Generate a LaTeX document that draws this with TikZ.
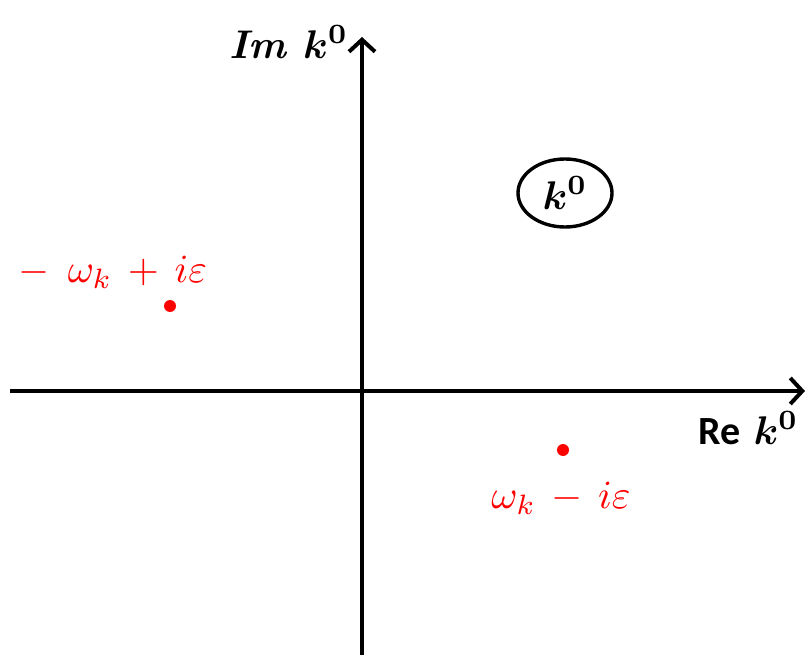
\documentclass[tikz,border=0pt]{standalone}
\usepackage{graphicx}
\usepackage{bm}
\usepackage{fontspec}
\newfontfamily\calib{Carlito}
\newcommand\sclf[1]{\scalebox{4}{#1}}
\usetikzlibrary{arrows.meta,shapes.geometric}
\begin{document}
\begin{tikzpicture}[x=1pt,y=-1pt,
  axis/.style={line width=4.2pt,-{Straight Barb[length=12pt,width=26pt,line width=4pt]}},
  pole/.style={circle,fill=red,inner sep=0pt,minimum size=12pt},
  redlbl/.style={text=red,inner sep=0pt},
  blacklbl/.style={inner sep=0pt}]
\useasboundingbox (0,0) rectangle (806,655);
\coordinate (ybot) at (362,655);
\coordinate (ytop) at (362,37);
\coordinate (xl) at (10,391);
\coordinate (xr) at (805,391);
\draw[axis] (ybot) -- (ytop);
\draw[axis] (xl) -- (xr);
\node[pole] (p1) at (170,306) {};
\node[pole] (p2) at (563,450) {};
\node[redlbl] (l1) at (113,272) {\sclf{$-\;\,\omega_k\,+\,i\varepsilon$}};
\node[redlbl] (l2) at (561,498) {\sclf{$\omega_k\,-\,i\varepsilon$}};
\node[blacklbl] (im) at (289,42) {\sclf{\bfseries\textit{Im} $\bm{k^0}$}};
\node[blacklbl,anchor=west] (re) at (698,428) {\sclf{{\calib\bfseries Re} $\bm{k^0}$}};
\node[draw,line width=3.4pt,ellipse,minimum width=94pt,minimum height=68pt,inner sep=0pt] (k) at (565,193) {\sclf{$\bm{k^0}$}};
\end{tikzpicture}
\end{document}
